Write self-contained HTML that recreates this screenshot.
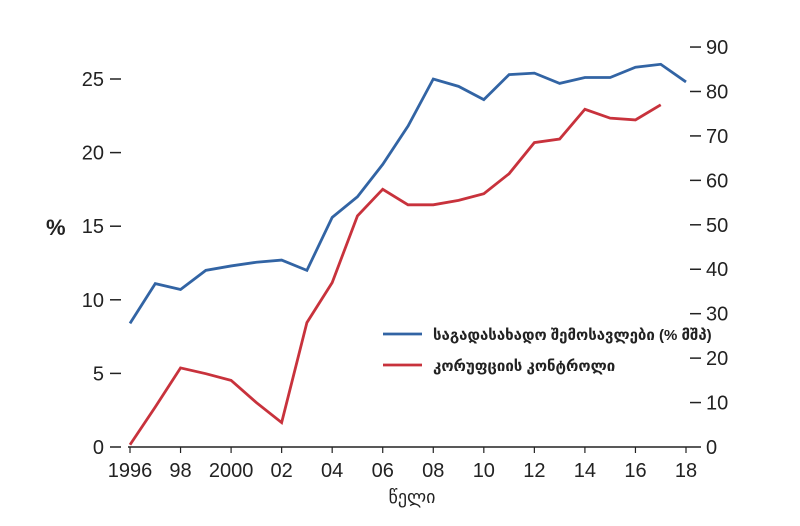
<!DOCTYPE html>
<html><head><meta charset="utf-8"><style>
body{margin:0;background:#fff;width:800px;height:521px;overflow:hidden}
svg text{font-family:"Liberation Sans","DejaVu Sans",sans-serif;fill:#222}
</style></head><body>
<svg id="c" width="800" height="521"></svg>
<script>
const years=[1996,1997,1998,1999,2000,2001,2002,2003,2004,2005,2006,2007,2008,2009,2010,2011,2012,2013,2014,2015,2016,2017,2018];
const xTickLabels=["1996","98","2000","02","04","06","08","10","12","14","16","18"];
const leftTicks=[0,5,10,15,20,25];
const rightTicks=[0,10,20,30,40,50,60,70,80,90];
const taxRevenue=[8.4,11.1,10.7,12.0,12.3,12.55,12.7,12.0,15.6,17.0,19.2,21.8,25.0,24.5,23.6,25.3,25.4,24.7,25.1,25.1,25.8,26.0,24.8];
const corruptionControl=[0.5,9,17.8,16.5,15,10,5.5,28,37,52,58,54.5,54.5,55.5,57,61.5,68.5,69.3,76,74,73.6,77];
const svg=document.getElementById('c');const NS='http://www.w3.org/2000/svg';
function el(t,a,p){const e=document.createElementNS(NS,t);for(const k in a)e.setAttribute(k,a[k]);(p||svg).appendChild(e);return e;}
const x=y=>130+(y-1996)*(556/22);
const yl=v=>447-v*14.72;
const yr=v=>447-v*4.444;
let e=el('line',{x1:128,x2:690,y1:447,y2:447,stroke:'#222','stroke-width':1.5});

xTickLabels.forEach((l,i)=>{const yy=1996+i*2;
 let t=el('line',{x1:x(yy),x2:x(yy),y1:447,y2:453,stroke:'#222','stroke-width':1.2});
 
 let tx=el('text',{x:x(yy),y:477,'text-anchor':'middle','font-size':20});tx.textContent=l;
 });
leftTicks.forEach(v=>{let tx=el('text',{x:104,y:yl(v)+7,'text-anchor':'end','font-size':20});tx.textContent=v;
 
 let t=el('line',{x1:110,x2:121,y1:yl(v),y2:yl(v),stroke:'#222','stroke-width':1.5});
 });
rightTicks.forEach(v=>{let tx=el('text',{x:706,y:yr(v)+7,'font-size':20});tx.textContent=v;
 
 let t=el('line',{x1:690,x2:701,y1:yr(v),y2:yr(v),stroke:'#222','stroke-width':1.5});
 });
let p1=el('polyline',{points:taxRevenue.map((v,i)=>x(years[i])+','+yl(v)).join(' '),fill:'none',stroke:'#3264a4','stroke-width':2.8});

let p2=el('polyline',{points:corruptionControl.map((v,i)=>x(years[i])+','+yr(v)).join(' '),fill:'none',stroke:'#c8323c','stroke-width':2.8});

let yt=el('text',{x:46,y:235,'font-size':22,'font-weight':'bold'});yt.textContent='%';

let xt=el('text',{x:412,y:503,'text-anchor':'middle','font-size':18});xt.textContent='წელი';

let l1=el('line',{x1:383,x2:422,y1:334,y2:334,stroke:'#3264a4','stroke-width':2.8});

let lt1=el('text',{x:433,y:340,'font-size':15,'font-weight':'bold'});lt1.textContent='საგადასახადო შემოსავლები (% მშპ)';

let l2=el('line',{x1:383,x2:422,y1:365,y2:365,stroke:'#c8323c','stroke-width':2.8});

let lt2=el('text',{x:433,y:371,'font-size':15,'font-weight':'bold'});lt2.textContent='კორუფციის კონტროლი';

</script>
</body></html>
